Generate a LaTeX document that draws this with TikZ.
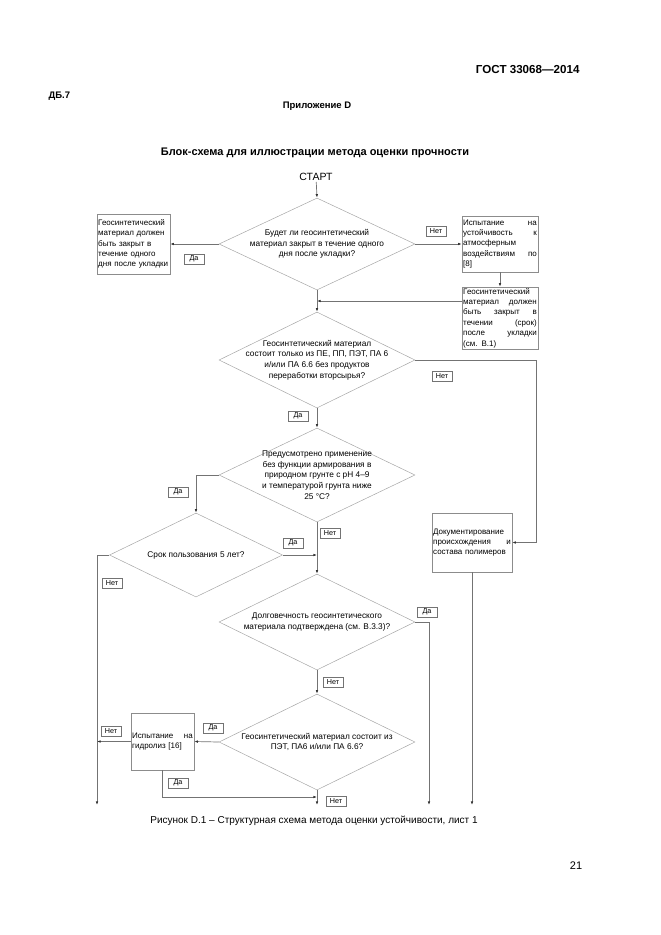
\documentclass[tikz,border=0pt]{standalone}
\usepackage{fontspec}
\setmainfont{Liberation Sans}
\usetikzlibrary{shapes.geometric, arrows.meta, positioning}
\tikzset{
  decision/.style={diamond, draw=black!35, line width=0.5pt, inner sep=0pt},
  dtext/.style={align=center, font=\fontsize{8.3}{10.6}\selectfont, inner sep=0pt},
  block/.style={rectangle, draw=black!45, line width=0.5pt, inner sep=1.2pt, align=left,
    font=\fontsize{8}{10.4}\selectfont},
  answer/.style={rectangle, draw=black!55, line width=0.4pt, inner sep=1pt,
    minimum width=20pt, minimum height=10.5pt, font=\fontsize{7.2}{8}\selectfont},
  conn/.style={draw=black!55, line width=0.7pt},
  arr/.style={conn, -{Latex[length=3.6pt,width=2.6pt,color=black!80]}}
}

\begin{document}
\begin{tikzpicture}[x=1pt,y=-1pt]
\useasboundingbox (0,0) rectangle (661,935);
% Шапка страницы
\node[anchor=east, font=\bfseries\fontsize{11.6}{13}\selectfont] (head) at (583,70) {ГОСТ 33068—2014};
\node[anchor=west, font=\bfseries\fontsize{9.5}{11}\selectfont] (sect) at (45,96) {ДБ.7};
\node[font=\bfseries\fontsize{9.5}{11}\selectfont] (appx) at (317,106) {Приложение D};
\node[font=\bfseries\fontsize{11}{13}\selectfont] (title) at (315,153) {Блок-схема для иллюстрации метода оценки прочности};
\node[font=\fontsize{10.5}{12}\selectfont, inner sep=1pt] (start) at (316,177) {СТАРТ};
% Ромбы
\node[decision, minimum width=196, minimum height=92] (d1) at (317,244) {};
\node[dtext] at (d1) {Будет ли геосинтетический\\материал закрыт в течение одного\\дня после укладки?};
\node[decision, minimum width=196, minimum height=96] (d2) at (317,360) {};
\node[dtext] at (d2) {Геосинтетический материал\\состоит только из ПЕ, ПП, ПЭТ, ПА 6\\и/или ПА 6.6 без продуктов\\переработки вторсырья?};
\node[decision, minimum width=196, minimum height=94] (d3) at (317,475) {};
\node[dtext] at (d3) {Предусмотрено применение\\без функции армирования в\\природном грунте с pH 4–9\\и температурой грунта ниже\\25 °С?};
\node[decision, minimum width=173, minimum height=84] (d4) at (196,555) {};
\node[dtext] at (d4) {Срок пользования 5 лет?};
\node[decision, minimum width=196, minimum height=96] (d5) at (317,622) {};
\node[dtext] at (d5) {Долговечность геосинтетического\\материала подтверждена (см. В.3.3)?};
\node[decision, minimum width=196, minimum height=96] (d6) at (317,742) {};
\node[dtext] at (d6) {Геосинтетический материал состоит из\\ПЭТ, ПА6 и/или ПА 6.6?};
% Прямоугольники
\node[block, text width=70.6, minimum height=60] (b1) at (133.5,244) {Геосинтетический\\материал должен\\быть закрыт в\\течение одного\\дня после укладки};
\node[block, text width=73.6, minimum height=56] (b2) at (500,244) {Испытание\hfill на\\устойчивость\hfill к\\атмосферным\\воздействиям\hfill по\\{[8]}};
\node[block, text width=73.6, minimum height=60] (b3) at (500,318) {Геосинтетический\\материал\hfill должен\\быть\hfill закрыт\hfill в\\течении\hfill (срок)\\после\hfill укладки\\(см. В.1)};
\node[block, text width=77.6, minimum height=59] (b4) at (472,542.5) {Документирование\\происхождения\hfill и\\состава полимеров};
\node[block, text width=60.6, minimum height=57] (b5) at (162.5,741.5) {Испытание\hfill на\\гидролиз [16]};
% Вспомогательные точки
\coordinate (j1) at (317,301);
\coordinate (j2) at (317,555);
\coordinate (j3) at (317,797);
\coordinate (r1) at (536,360);
\coordinate (e1) at (97,805);
\coordinate (e2) at (317,805);
\coordinate (e3) at (429,805);
% Соединения
\draw[arr] (start) -- (d1.north);
\draw[arr] (d1.west) -- (b1.east);
\draw[arr] (d1.east) -- (b2.west);
\draw[arr] (b2.south) -- (b3.north);
\draw[arr] (j1 -| b3.west) -- (j1);
\draw[arr] (d1.south) -- (d2.north);
\draw[arr] (d2.east) -- (r1) |- (b4.east);
\draw[arr] (d2.south) -- (d3.north);
\draw[arr] (d3.west) -| (d4.north);
\draw[arr] (d4.east) -- (j2);
\draw[arr] (d3.south) -- (d5.north);
\draw[arr] (d4.west) -| (e1);
\draw[arr] (b4.south) -- (b4.south |- e1);
\draw[arr] (d5.east) -| (e3);
\draw[arr] (d5.south) -- (d6.north);
\draw[arr] (d6.west) -- (b5.east);
\draw[arr] (b5.west) -- (b5.west -| e1);
\draw[arr] (b5.south) |- (j3);
\draw[arr] (d6.south) -- (e2);
% Ответы
\node[answer] (a1) at (436,231) {Нет};
\node[answer] (a2) at (194,259) {Да};
\node[answer] (a3) at (442,376) {Нет};
\node[answer] (a4) at (298,416) {Да};
\node[answer] (a5) at (178,492) {Да};
\node[answer] (a6) at (293,543) {Да};
\node[answer] (a7) at (330,533) {Нет};
\node[answer] (a8) at (112,583) {Нет};
\node[answer] (a9) at (427,612) {Да};
\node[answer] (a10) at (333,682) {Нет};
\node[answer] (a11) at (213,728) {Да};
\node[answer] (a12) at (111,731) {Нет};
\node[answer] (a13) at (178,783) {Да};
\node[answer] (a14) at (336,801) {Нет};
% Подпись
\node[font=\fontsize{10}{12}\selectfont] (cap) at (314,821) {Рисунок D.1 – Структурная схема метода оценки устойчивости, лист 1};
\node[font=\fontsize{11}{12}\selectfont] (page) at (576,866) {21};
\end{tikzpicture}
\end{document}
